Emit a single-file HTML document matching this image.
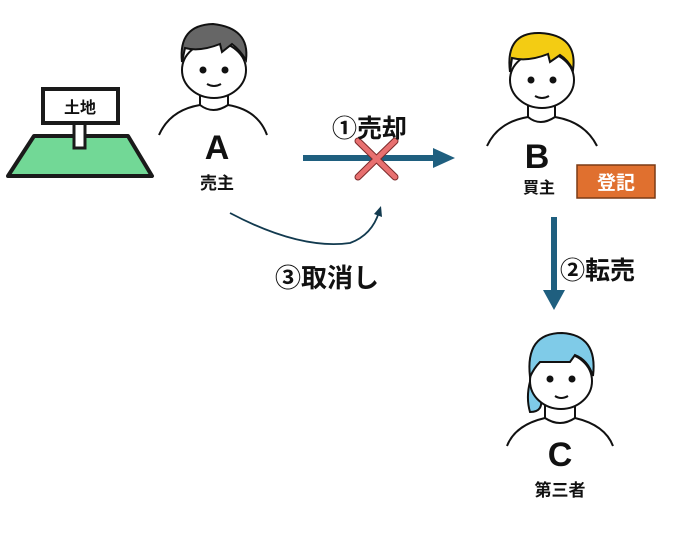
<!DOCTYPE html>
<html><head><meta charset="utf-8"><style>
html,body{margin:0;padding:0;background:#fff;}
svg text{font-family:"Liberation Sans","Noto Sans CJK JP",sans-serif;}
</style></head><body>
<svg width="678" height="529" viewBox="0 0 678 529" xmlns="http://www.w3.org/2000/svg">
<!-- Land -->
<polygon points="34,136 128,136 152,176 8,176" fill="#72d896" stroke="#1a1a1a" stroke-width="4" stroke-linejoin="round"/>
<rect x="74" y="120" width="11" height="28" fill="#fff" stroke="#1a1a1a" stroke-width="3"/>
<rect x="43" y="89" width="75" height="34" fill="#fff" stroke="#1a1a1a" stroke-width="4"/>
<text x="80" y="113" font-size="16" font-weight="bold" text-anchor="middle" fill="#111">土地</text>

<!-- Person A -->
<g stroke="#111" stroke-width="2" fill="none">
<path d="M159,135 Q170,110 200,105 Q213,115 228,105 Q258,110 267,135" fill="#fff"/>
<path d="M200,95 L200,106 M228,95 L228,106"/>
<ellipse cx="214" cy="70" rx="32" ry="28" fill="#fff"/>
<path d="M182,62 Q178,25 213,24 Q250,28 246,60 Q240,50 232,44 L222,52 L220,44 Q200,52 185,48 Z" fill="#666"/>
<path d="M207,84 Q214,88 221,84"/>
</g>
<circle cx="203" cy="70" r="3.5" fill="#111"/><circle cx="225" cy="70" r="3.5" fill="#111"/>
<text x="217" y="159" font-size="34" font-weight="bold" text-anchor="middle" fill="#111">A</text>
<text x="217" y="189" font-size="17" font-weight="bold" text-anchor="middle" fill="#111">売主</text>

<!-- Person B -->
<g stroke="#111" stroke-width="2" fill="none">
<path d="M487,146 Q498,122 528,117 Q540,127 555,117 Q585,122 597,146" fill="#fff"/>
<path d="M528,105 L528,118 M555,105 L555,118"/>
<ellipse cx="542" cy="80" rx="32" ry="28" fill="#fff"/>
<path d="M510,72 Q505,32 540,33 Q578,35 573,70 Q568,60 560,55 L550,62 L548,54 Q528,62 512,58 Z" fill="#f3cc13"/>
<path d="M535,96 Q542,100 549,96"/>
</g>
<circle cx="531" cy="80" r="3.5" fill="#111"/><circle cx="553" cy="80" r="3.5" fill="#111"/>
<text x="537" y="168" font-size="34" font-weight="bold" text-anchor="middle" fill="#111">B</text>
<text x="539" y="193" font-size="16" font-weight="bold" text-anchor="middle" fill="#111">買主</text>
<rect x="577" y="165" width="78" height="33" fill="#e0702f" stroke="#7a3a15" stroke-width="1.5"/>
<text x="616" y="189" font-size="19" font-weight="bold" text-anchor="middle" fill="#fff">登記</text>

<!-- Arrow 1 -->
<line x1="303" y1="158" x2="436" y2="158" stroke="#1f5f7f" stroke-width="6"/>
<polygon points="433,148 455,158 433,168" fill="#1f5f7f"/>
<g stroke="#7a2a2a" stroke-width="7" stroke-linecap="round"><line x1="358" y1="141" x2="395" y2="177"/><line x1="395" y1="141" x2="358" y2="177"/></g>
<g stroke="#e87070" stroke-width="5" stroke-linecap="round"><line x1="358" y1="141" x2="395" y2="177"/><line x1="395" y1="141" x2="358" y2="177"/></g>
<text x="332" y="137" font-size="25" font-weight="bold" fill="#111">①売却</text>

<!-- Curve -->
<path d="M230,213 Q300,250 350,243 Q372,235 379,212" stroke="#123a4f" stroke-width="1.8" fill="none"/>
<polygon points="374,214 381,206 382,217" fill="#123a4f"/>
<text x="275" y="287" font-size="26" font-weight="bold" fill="#111">③取消し</text>

<!-- Arrow 2 -->
<line x1="554" y1="217" x2="554" y2="293" stroke="#1f5f7f" stroke-width="6"/>
<polygon points="543,290 565,290 554,310" fill="#1f5f7f"/>
<text x="560" y="279" font-size="25" font-weight="bold" fill="#111">②転売</text>

<!-- Person C -->
<g stroke="#111" stroke-width="2" fill="none">
<path d="M507,446 Q515,425 545,418 Q560,428 575,418 Q605,425 613,446" fill="#fff"/>
<path d="M545,405 L545,419 M575,405 L575,419"/>
<path d="M532,375 Q525,395 530,412 Q545,412 540,395 Z" fill="#7fcbe8"/>
<ellipse cx="561" cy="381" rx="31" ry="28" fill="#fff"/>
<path d="M530,377 Q525,333 562,333 Q598,335 593,376 Q588,360 575,355 L570,362 Q550,362 540,362 Q534,368 530,377 Z" fill="#7fcbe8"/>
<path d="M555,396 Q561,400 568,396"/>
</g>
<circle cx="550" cy="379" r="3.5" fill="#111"/><circle cx="572" cy="379" r="3.5" fill="#111"/>
<text x="560" y="466" font-size="34" font-weight="bold" text-anchor="middle" fill="#111">C</text>
<text x="560" y="496" font-size="17" font-weight="bold" text-anchor="middle" fill="#111">第三者</text>
</svg>
</body></html>
